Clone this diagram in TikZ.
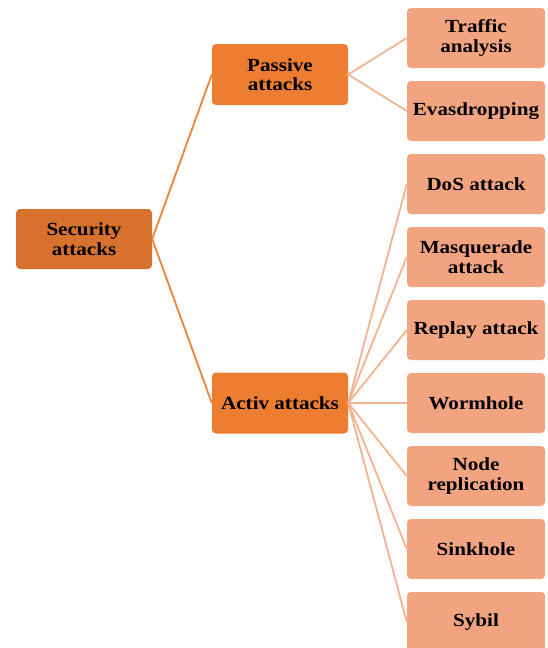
\documentclass[tikz,border=0pt]{standalone}
\usepackage{fontspec}
\setmainfont{Liberation Serif}[FakeStretch=1.14]
\definecolor{rootc}{HTML}{D8712E}
\definecolor{midc}{HTML}{ED7D31}
\definecolor{leafc}{HTML}{F2A380}
\definecolor{lineA}{HTML}{EE843C}
\definecolor{lineB}{HTML}{F4B291}
\tikzset{
  box/.style={rectangle, rounded corners=4pt, inner sep=0pt, align=center,
    font=\fontsize{18.5}{19.5}\selectfont\bfseries, text=black},
  rootbox/.style={box, fill=rootc, minimum width=136pt, minimum height=60pt},
  midbox/.style={box, fill=midc, minimum width=136pt, minimum height=61pt},
  leafbox/.style={box, fill=leafc, minimum width=138pt, minimum height=60pt},
  linkA/.style={draw=lineA, line width=1.8pt},
  linkB/.style={draw=lineB, line width=1.8pt}
}
\begin{document}
\begin{tikzpicture}[x=1pt,y=-1pt]
\useasboundingbox (0,0) rectangle (547,648);
\begin{scope}
\clip (0,0) rectangle (547,648);
\node[rootbox] (root) at (84,239) {Security\\attacks};
\node[midbox] (pas) at (280,74.5) {Passive\\attacks};
\node[midbox] (act) at (280,403) {Activ attacks};
\node[leafbox] (l1) at (476,38) {Traffic\\analysis};
\node[leafbox] (l2) at (476,111) {Evasdropping};
\node[leafbox] (l3) at (476,184) {DoS attack};
\node[leafbox] (l4) at (476,257) {Masquerade\\attack};
\node[leafbox] (l5) at (476,330) {Replay attack};
\node[leafbox] (l6) at (476,403) {Wormhole};
\node[leafbox] (l7) at (476,476) {Node\\replication};
\node[leafbox] (l8) at (476,549) {Sinkhole};
\node[leafbox] (l9) at (476,622) {Sybil};
\draw[linkA] (pas.west) -- (root.east) -- (act.west);
\draw[linkB] (l1.west) -- (pas.east) -- (l2.west);
\foreach \i in {3,...,9}{
  \draw[linkB] (act.east) -- (l\i.west);
}
\end{scope}
\end{tikzpicture}
\end{document}
